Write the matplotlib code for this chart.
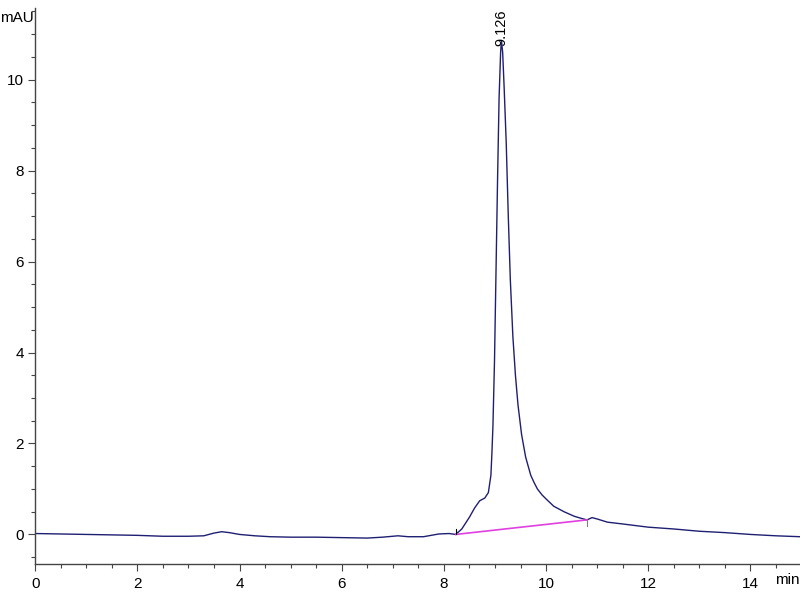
import matplotlib
matplotlib.use("Agg")
import matplotlib.pyplot as plt
from matplotlib.ticker import MultipleLocator

time_min = [0.0, 0.5, 1.0, 1.5, 2.0, 2.5, 3.0, 3.3, 3.5, 3.65, 3.8, 4.0, 4.3, 4.6,
            5.0, 5.5, 6.0, 6.5, 6.8, 7.1, 7.3, 7.6, 7.9, 8.1, 8.23, 8.35, 8.5, 8.6,
            8.7, 8.8, 8.87, 8.92, 8.94, 8.96, 8.99, 9.02, 9.05, 9.08, 9.11, 9.126,
            9.15, 9.18, 9.22, 9.26, 9.30, 9.35, 9.40, 9.45, 9.52, 9.6, 9.7, 9.77,
            9.83, 9.92, 10.0, 10.15, 10.35, 10.55, 10.7, 10.8, 10.9, 11.0, 11.2,
            11.5, 12.0, 12.5, 13.0, 13.5, 14.0, 14.5, 14.97]
signal_mau = [0.02, 0.01, 0.0, -0.01, -0.02, -0.04, -0.04, -0.03, 0.03, 0.06, 0.04,
              0.0, -0.03, -0.05, -0.06, -0.06, -0.07, -0.08, -0.06, -0.03, -0.05,
              -0.05, 0.01, 0.02, 0.0, 0.12, 0.38, 0.58, 0.74, 0.80, 0.92, 1.3, 1.8,
              2.4, 3.8, 5.8, 7.8, 9.6, 10.6, 10.86, 10.6, 9.8, 8.6, 7.0, 5.6, 4.35,
              3.5, 2.85, 2.2, 1.7, 1.3, 1.13, 1.0, 0.87, 0.78, 0.62, 0.5, 0.4,
              0.35, 0.32, 0.37, 0.34, 0.27, 0.23, 0.16, 0.12, 0.07, 0.04, 0.0,
              -0.03, -0.05]

baseline_t = [8.23, 10.8]
baseline_v = [0.0, 0.32]
peak_rt = 9.126
peak_h = 10.86
peak_label = "9.126"

plt.rcParams['font.family'] = ['Liberation Sans', 'DejaVu Sans']

fig = plt.figure(figsize=(8, 6), dpi=100)
ax = fig.add_axes([0.044, 0.06, 0.956, 0.927])

ax.plot(time_min, signal_mau, color='#1f1f72', lw=1.0)
ax.plot(baseline_t, baseline_v, color='#e040e0', lw=1.2)
ax.plot([baseline_t[0], baseline_t[0]], [baseline_v[0], baseline_v[0] + 0.13],
        color='black', lw=0.8)
ax.plot([baseline_t[1], baseline_t[1]], [baseline_v[1], baseline_v[1] - 0.13],
        color='gray', lw=0.8)

ax.text(peak_rt, peak_h - 0.12, peak_label, rotation=90, ha='center', va='bottom',
        fontsize=10.5, color='black')

ax.set_xlim(0, 14.97)
ax.set_ylim(-0.65, 11.58)
ax.xaxis.set_major_locator(MultipleLocator(2))
ax.xaxis.set_minor_locator(MultipleLocator(0.5))
ax.yaxis.set_major_locator(MultipleLocator(2))
ax.yaxis.set_minor_locator(MultipleLocator(0.5))

for s in ['top', 'right']:
    ax.spines[s].set_visible(False)
for s in ['left', 'bottom']:
    ax.spines[s].set_color('#444444')
    ax.spines[s].set_linewidth(1.0)

ax.tick_params(axis='both', which='major', length=5, width=0.8, colors='#444444',
               labelsize=11, labelcolor='black')
ax.tick_params(axis='both', which='minor', length=3, width=0.8, colors='#444444')
ax.tick_params(axis='y', pad=3)
ax.tick_params(axis='x', pad=4)

fig.text(0.0, 0.97, "mAU", fontsize=11, ha='left', va='center')
fig.text(0.999, 0.033, "min", fontsize=11, ha='right', va='center')

fig.savefig("out.png", dpi=100)
